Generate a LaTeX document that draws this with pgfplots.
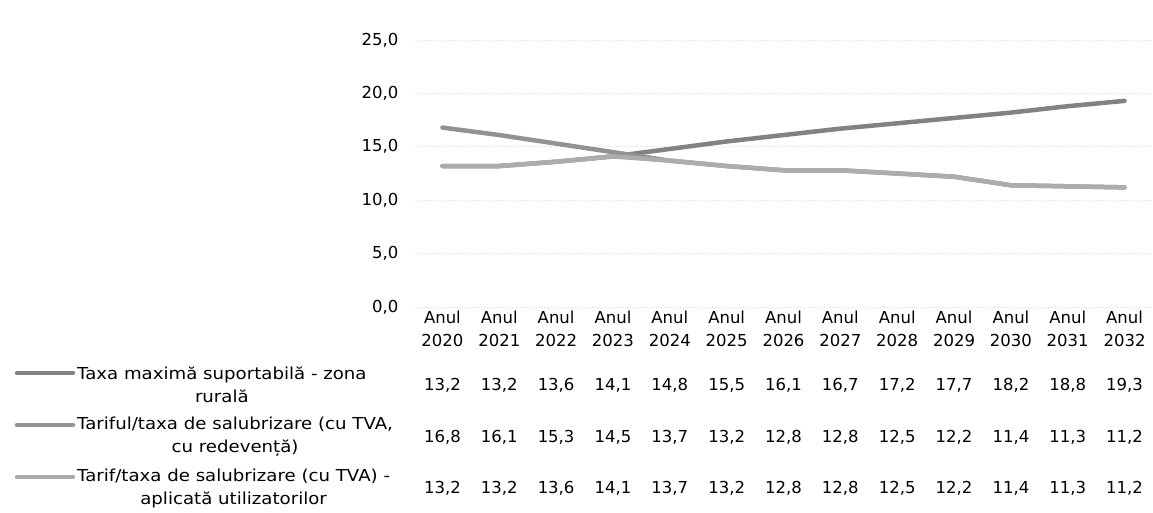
\documentclass[border=0pt]{standalone}
\usepackage{fontspec}
\setmainfont{DejaVu Sans}
\newfontfamily\legfont[FakeStretch=1.1]{DejaVu Sans}
\usepackage{pgfplots}
\usepackage{pgfplotstable}
\pgfplotsset{compat=1.18}
\definecolor{cA}{RGB}{130,130,130}
\definecolor{cB}{RGB}{146,146,146}
\definecolor{cC}{RGB}{172,172,172}

\pgfplotstableread{
x s1 s2 s3
0 13.2 16.8 13.2
1 13.2 16.1 13.2
2 13.6 15.3 13.6
3 14.1 14.5 14.1
4 14.8 13.7 13.7
5 15.5 13.2 13.2
6 16.1 12.8 12.8
7 16.7 12.8 12.8
8 17.2 12.5 12.5
9 17.7 12.2 12.2
10 18.2 11.4 11.4
11 18.8 11.3 11.3
12 19.3 11.2 11.2
}\data

\begin{document}
\begin{tikzpicture}[font=\fontsize{16.5}{23}\selectfont]
\begin{axis}[
  at={(414pt,205pt)}, anchor=south west,
  width=739pt, height=267pt, scale only axis,
  xmin=-0.5, xmax=12.5, ymin=0, ymax=25,
  clip=false,
  axis line style={draw=none},
  tick style={draw=none},
  ytick={0,5,10,15,20,25},
  xtick={0,1,2,3,4,5,6,7,8,9,10,11,12},
  xticklabels={{Anul\\2020},{Anul\\2021},{Anul\\2022},{Anul\\2023},{Anul\\2024},{Anul\\2025},{Anul\\2026},{Anul\\2027},{Anul\\2028},{Anul\\2029},{Anul\\2030},{Anul\\2031},{Anul\\2032}},
  xticklabel style={align=center, font=\fontsize{16.5}{23}\selectfont},
  yticklabel style={xshift=-12pt, font=\fontsize{16.5}{23}\selectfont},
  ymajorgrids,
  major grid style={black!12, dotted, line width=0.6pt},
  /pgf/number format/use comma,
  /pgf/number format/fixed,
  /pgf/number format/fixed zerofill,
  /pgf/number format/precision=1,
  /pgf/number format/assume math mode=true,
  every node near coord/.append style={anchor=center, font=\fontsize{16.5}{23}\selectfont, text=black},
]
\addplot[cA, line width=4.5pt, line join=round, line cap=round] table[x=x, y=s1] {\data};
\addplot[cB, line width=4.5pt, line join=round, line cap=round] table[x=x, y=s2] {\data};
\addplot[cC, line width=4.5pt, line join=round, line cap=round] table[x=x, y=s3] {\data};

\addplot[draw=none, mark=none, nodes near coords, point meta=explicit] table[x=x, y expr=-7.30, meta=s1] {\data};
\addplot[draw=none, mark=none, nodes near coords, point meta=explicit] table[x=x, y expr=-12.17, meta=s2] {\data};
\addplot[draw=none, mark=none, nodes near coords, point meta=explicit] table[x=x, y expr=-16.95, meta=s3] {\data};
\end{axis}

% legend keys and row labels of the data table
\draw[cA, line width=4.5pt, line cap=round] (17pt,139pt) -- (73pt,139pt);
\draw[cB, line width=4.5pt, line cap=round] (17pt,87pt) -- (73pt,87pt);
\draw[cC, line width=4.5pt, line cap=round] (17pt,35pt) -- (73pt,35pt);
\node[anchor=west, align=center, inner sep=0pt, font=\legfont\fontsize{16.5}{23}\selectfont] at (77pt,127.5pt) {Taxa maximă suportabilă - zona\\rurală};
\node[anchor=west, align=center, inner sep=0pt, font=\legfont\fontsize{16.5}{23}\selectfont] at (77pt,75.5pt) {Tariful/taxa de salubrizare (cu TVA,\\cu redevență)};
\node[anchor=west, align=center, inner sep=0pt, font=\legfont\fontsize{16.5}{23}\selectfont] at (77pt,23.5pt) {Tarif/taxa de salubrizare (cu TVA) -\\aplicată utilizatorilor};

\pgfresetboundingbox
\useasboundingbox (0,0) rectangle (1153pt,512pt);
\end{tikzpicture}
\end{document}
